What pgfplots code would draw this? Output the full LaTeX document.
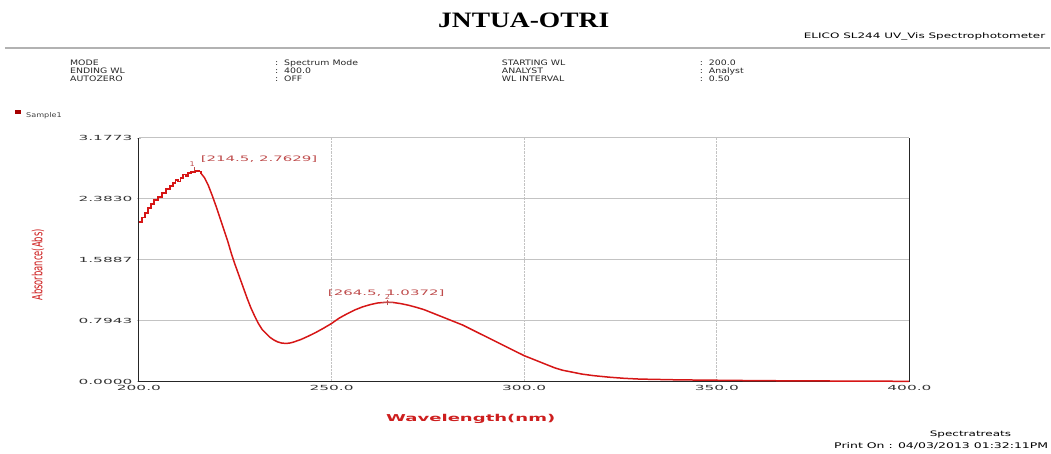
\documentclass[border=0pt]{standalone}
\usepackage{pgfplots}
\pgfplotsset{compat=1.18}
\usepackage{fontspec}
\setmainfont{DejaVu Sans}
\newfontfamily\titlefont[FakeStretch=1.25]{Liberation Serif}
\newfontfamily\hdrfont[FakeStretch=1.25]{DejaVu Sans}
\newfontfamily\widefont[FakeStretch=1.6]{DejaVu Sans}
\newfontfamily\annfont[FakeStretch=2.0]{DejaVu Sans}
\newfontfamily\tickfont[FakeStretch=2.2]{DejaVu Sans}
\newfontfamily\xlabfont[FakeStretch=1.9]{DejaVu Sans}
\newfontfamily\ylabfont[FakeStretch=0.6]{DejaVu Sans}
\definecolor{curvered}{RGB}{214,22,22}
\definecolor{annred}{RGB}{190,75,75}
\definecolor{gridgray}{RGB}{195,195,195}
\definecolor{labred}{RGB}{205,30,30}

\pgfplotstableread{
x y
200 2.08
200.8 2.14
201.6 2.20
202.4 2.27
203.2 2.32
204 2.37
205 2.41
206 2.46
207 2.51
208 2.55
208.8 2.59
209.5 2.63
210.2 2.61
210.8 2.66
211.5 2.70
212.2 2.68
212.8 2.72
213.5 2.73
214.5 2.75
215.5 2.74
216.2 2.71
}\rising

\pgfplotstableread{
x y
216.2 2.71
217 2.66
218 2.56
219 2.43
220 2.29
221 2.14
222 1.99
223 1.84
224 1.67
225 1.52
226 1.38
227 1.24
228 1.10
229 0.97
230 0.86
231 0.76
232 0.68
233 0.63
234 0.58
235 0.545
236 0.52
237 0.505
238 0.50
239 0.503
240 0.515
242 0.55
244 0.595
246 0.645
248 0.70
250 0.76
252 0.83
254 0.885
256 0.935
258 0.975
260 1.005
262 1.027
264.5 1.037
266 1.033
268 1.018
270 0.997
272 0.97
274 0.94
276 0.90
278 0.86
280 0.82
282 0.78
284 0.74
286 0.69
288 0.64
290 0.59
292 0.54
294 0.49
296 0.44
298 0.39
300 0.34
302 0.30
304 0.26
306 0.22
308 0.18
310 0.15
312 0.13
315 0.10
318 0.08
322 0.06
326 0.045
330 0.035
340 0.025
350 0.02
360 0.015
370 0.012
380 0.01
390 0.008
400 0.006
}\spectrum

\begin{document}
\begin{tikzpicture}[x=1pt,y=1pt]
\path (0,0) rectangle (1051,454);
% title and header
\node[font=\titlefont\bfseries\fontsize{22}{22}\selectfont] at (524,434) {JNTUA-OTRI};
\node[anchor=base east, inner sep=0pt, font=\widefont\fontsize{7.5}{7.5}\selectfont] at (1046,415) {ELICO SL244 UV\_Vis Spectrophotometer};
\draw[gray!60, line width=1.2pt] (5,406) -- (1051,406);
\begin{scope}[every node/.style={anchor=base west, inner sep=0pt, font=\hdrfont\fontsize{7.5}{7.5}\selectfont, text=black!85}]
\node at (70,388) {MODE};
\node at (70,380) {ENDING WL};
\node at (70,372) {AUTOZERO};
\node at (275,388) {:\ \ Spectrum Mode};
\node at (275,380) {:\ \ 400.0};
\node at (275,372) {:\ \ OFF};
\node at (502,388) {STARTING WL};
\node at (502,380) {ANALYST};
\node at (502,372) {WL INTERVAL};
\node at (700,388) {:\ \ 200.0};
\node at (700,380) {:\ \ Analyst};
\node at (700,372) {:\ \ 0.50};
\end{scope}
% legend
\fill[red!65!black] (15,340) rectangle (21,344);
\node[anchor=base west, inner sep=0pt, font=\hdrfont\fontsize{6.5}{6.5}\selectfont, text=black!75] at (26,336) {Sample1};
% axis labels
\node[font=\xlabfont\bfseries\fontsize{9.5}{9.5}\selectfont, text=labred] at (471,35) {Wavelength(nm)};
\node[rotate=90, font=\ylabfont\fontsize{14}{14}\selectfont, text=labred] at (38,189) {Absorbance(Abs)};
% bottom right
\node[anchor=base, inner sep=0pt, font=\widefont\fontsize{7.5}{7.5}\selectfont] at (971,17) {Spectratreats};
\node[anchor=base east, inner sep=0pt, font=\widefont\fontsize{7.8}{7.8}\selectfont] at (1049,5) {Print On : 04/03/2013 01:32:11PM};

\begin{axis}[
  at={(139pt,72pt)}, anchor=south west,
  width=771pt, height=244pt, scale only axis,
  xmin=200, xmax=400, ymin=0, ymax=3.1773,
  xtick={200,250,300,350,400},
  xticklabels={200.0,250.0,300.0,350.0,400.0},
  ytick={0,0.7943,1.5887,2.3830,3.1773},
  yticklabels={0.0000,0.7943,1.5887,2.3830,3.1773},
  ymajorgrids, xmajorgrids,
  y grid style={gridgray, line width=0.9pt},
  x grid style={gridgray, densely dotted, line width=0.9pt},
  axis x line=bottom, axis y line=left,
  axis line style={black!85, line width=1pt, -},
  tick style={gridgray, line width=0.8pt},
  xtick style={draw=none},
  major tick length=4pt,
  y tick label style={font=\tickfont\fontsize{7}{7}\selectfont, text=black!80, xshift=-1pt},
  x tick label style={font=\tickfont\fontsize{7}{7}\selectfont, text=black!80, yshift=2pt},
  clip=false,
]
\addplot[curvered, line width=1.9pt, const plot mark left] table[x=x,y=y] {\rising};
\addplot[curvered, line width=1.5pt] table[x=x,y=y] {\spectrum};
\draw[black!85, line width=1pt] (axis cs:400,0) -- (axis cs:400,3.1773);
\node[font=\annfont\fontsize{7.5}{7.5}\selectfont, text=annred, anchor=base west, inner sep=0pt] at (axis cs:216.0,2.87) {[214.5, 2.7629]};
\node[font=\hdrfont\fontsize{6.5}{6.5}\selectfont, text=annred, inner sep=0pt] at (axis cs:213.8,2.84) {1};
\draw[annred, line width=0.6pt] (axis cs:214.5,2.74) -- (axis cs:214.5,2.80);
\node[font=\annfont\fontsize{7.5}{7.5}\selectfont, text=annred, anchor=base west, inner sep=0pt] at (axis cs:249.0,1.13) {[264.5, 1.0372]};
\node[font=\hdrfont\fontsize{6.5}{6.5}\selectfont, text=annred, inner sep=0pt] at (axis cs:264.5,1.10) {2};
\draw[annred, line width=0.6pt] (axis cs:264.5,1.00) -- (axis cs:264.5,1.07);
\draw[annred, line width=0.6pt] (axis cs:263,1.037) -- (axis cs:266,1.037);
\end{axis}
\end{tikzpicture}
\end{document}
